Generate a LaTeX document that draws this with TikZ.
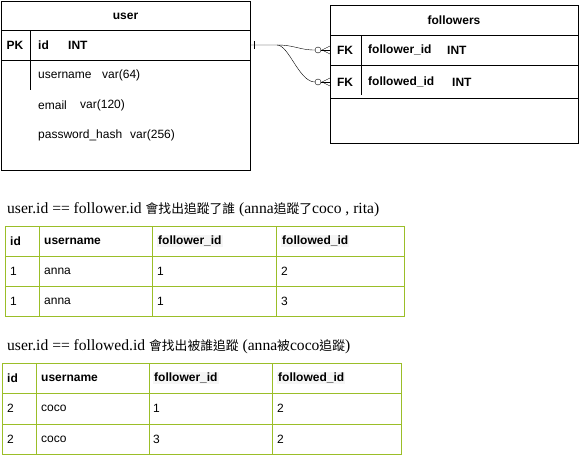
\documentclass[tikz,border=0pt]{standalone}
\usepackage{fontspec}
\setmainfont{Liberation Sans}
\newfontfamily\capfont{Liberation Serif}
\newfontfamily\cjk[Scale=0.82]{Noto Sans CJK TC}
\usetikzlibrary{positioning}
\definecolor{tblgreen}{RGB}{155,190,40}

\begin{document}
\begin{tikzpicture}[x=1pt,y=-1pt,
    every node/.style={font=\fontsize{12}{14}\selectfont},
    ent/.style={draw,anchor=north west,inner sep=0pt},
    hd/.style={font=\bfseries\fontsize{12}{14}\selectfont},
    fld/.style={anchor=west,inner sep=0pt},
    hlt/.style={fill=black!4,inner sep=1pt},
    captxt/.style={anchor=west,inner sep=0pt,font=\capfont\fontsize{15.6}{18}\selectfont},
    grn/.style={draw=tblgreen,line width=1pt}]
    \useasboundingbox (0,0) rectangle (581,456);

    \node [ent,minimum width=249pt,minimum height=169pt] (user) at (1,1) {};
    \node [hd] (utitle) at (125.5,16) {user};
    \draw (1,30) -- (250,30);
    \draw (1,60) -- (250,60);
    \draw (30,30) -- (30,90);
    \node [hd] (pk) at (15,45) {PK};
    \node [hd,fld] (uid) at (38,45) {id};
    \node [hd,fld] (uidt) at (68,45) {INT};
    \foreach \f/\t/\tx/\y in {username/{var(64)}/102/75, email/{var(120)}/80/105, password\_hash/{var(256)}/130/135}{
        \node [fld] (uf\y) at (38,\y) {\f};
        \node [fld] (ut\y) at (\tx,\y) {\t};
    }

    \node [ent,minimum width=248pt,minimum height=138pt] (fol) at (330,5) {};
    \node [hd] (ftitle) at (454,20) {followers};
    \draw (330,35) -- (578,35);
    \draw (330,65) -- (578,65);
    \draw (330,98) -- (578,98);
    \draw (361,35) -- (361,95);
    \node [hd] (fka) at (345,50) {FK};
    \node [hd,fld] (fa) at (368,50) {follower\_id};
    \node [hd,fld] (fat) at (447,50) {INT};
    \node [hd] (fkb) at (345,82) {FK};
    \node [hd,fld] (fb) at (368,82) {followed\_id};
    \node [hd,fld] (fbt) at (452,82) {INT};

    \coordinate (src) at (user.east |- pk);
    \coordinate (split) at (277,45);
    \coordinate (ca) at ([xshift=-15pt]fol.west |- fka);
    \coordinate (cb) at ([xshift=-15pt]fol.west |- fkb);
    \draw ([xshift=4pt,yshift=4pt]src) -- ([xshift=4pt,yshift=-4pt]src);
    \draw (src) -- (split) .. controls +(18,0) and +(-16,0) .. (ca);
    \draw (split) .. controls +(12,0) and +(-16,0) .. (cb);
    \foreach \e in {ca,cb}{
        \draw ([xshift=3pt]\e) circle (3pt);
        \draw ([xshift=15pt,yshift=4pt]\e) -- ([xshift=7pt]\e) -- ([xshift=15pt,yshift=-4pt]\e);
        \draw ([xshift=6pt]\e) -- ([xshift=15pt]\e);
    }

    \node [captxt] (cap1) at (7,210) {user.id == follower.id {\cjk 會找出追蹤了誰} (anna{\cjk 追蹤了}coco , rita)};
    \draw [grn] (5,226) rectangle (404,316);
    \foreach \x in {39,152,276} \draw [grn] (\x,226) -- (\x,316);
    \foreach \y in {256,286} \draw [grn] (5,\y) -- (404,\y);
    \node [hd,fld] (ha1) at (10,241) {id};
    \node [hd,fld] (hb1) at (44,241) {username};
    \node [hd,fld,hlt] (hc1) at (157,241) {follower\_id};
    \node [hd,fld,hlt] (hd1) at (281,241) {followed\_id};
    \foreach \y/\a/\b/\c/\d in {271/1/anna/1/2, 301/1/anna/1/3}{
        \node [fld] (ra\y) at (10,\y) {\a};
        \node [fld] (rb\y) at (44,\y) {\b};
        \node [fld] (rc\y) at (157,\y) {\c};
        \node [fld] (rd\y) at (281,\y) {\d};
    }

    \node [captxt] (cap2) at (7,347) {user.id == followed.id {\cjk 會找出被誰追蹤} (anna{\cjk 被}coco{\cjk 追蹤})};
    \draw [grn] (2,363) rectangle (401,454);
    \foreach \x in {36,149,272} \draw [grn] (\x,363) -- (\x,454);
    \foreach \y in {393,424} \draw [grn] (2,\y) -- (401,\y);
    \node [hd,fld] (ha2) at (7,378) {id};
    \node [hd,fld] (hb2) at (41,378) {username};
    \node [hd,fld,hlt] (hc2) at (153,378) {follower\_id};
    \node [hd,fld,hlt] (hd2) at (277,378) {followed\_id};
    \foreach \y/\a/\b/\c/\d in {408/2/coco/1/2, 439/2/coco/3/2}{
        \node [fld] (sa\y) at (7,\y) {\a};
        \node [fld] (sb\y) at (41,\y) {\b};
        \node [fld] (sc\y) at (153,\y) {\c};
        \node [fld] (sd\y) at (277,\y) {\d};
    }
\end{tikzpicture}
\end{document}
